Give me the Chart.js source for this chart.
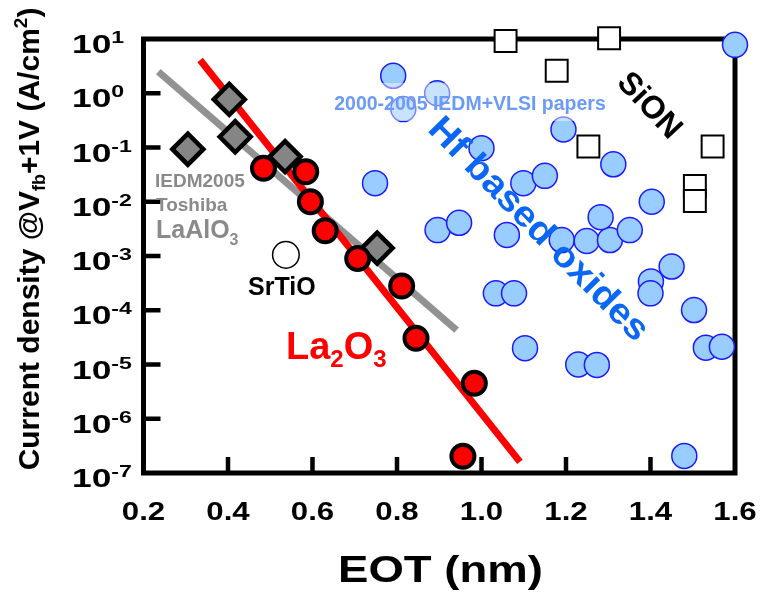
<!DOCTYPE html>
<html>
<head>
<meta charset="utf-8">
<script src="https://cdn.jsdelivr.net/npm/chart.js@4.4.1/dist/chart.umd.min.js"></script>
<style>
  html, body { margin: 0; padding: 0; background: #fff; }
</style>
</head>
<body>
<canvas id="chart" width="762" height="603"></canvas>
<script>
// axis ticks
const eotTicks = [0.2, 0.4, 0.6, 0.8, 1.0, 1.2, 1.4, 1.6];
const eotLabels = ['0.2', '0.4', '0.6', '0.8', '1.0', '1.2', '1.4', '1.6'];
const jTicks = [1e1, 1e0, 1e-1, 1e-2, 1e-3, 1e-4, 1e-5, 1e-6, 1e-7];
const jExp = ['1', '0', '-1', '-2', '-3', '-4', '-5', '-6', '-7'];

// La2O3 (red circles)
const la2o3EOT = [0.484, 0.584, 0.595, 0.630, 0.707, 0.811, 0.845, 0.983, 0.956];
const la2o3J = [0.0414, 0.0358, 0.0100, 0.00292, 0.0009, 0.00028, 3.04e-5, 4.5e-6, 2.03e-7];
const la2o3FitEOT = [0.334, 1.091];
const la2o3FitJ = [4.1, 1.6e-7];

// LaAlO3, IEDM2005 Toshiba (grey diamonds)
const laalo3EOT = [0.403, 0.417, 0.305, 0.535, 0.753];
const laalo3J = [0.77, 0.158, 0.093, 0.068, 0.0014];
const laalo3FitEOT = [0.235, 0.941];
const laalo3FitJ = [2.5, 4.3e-5];

// SrTiO
const srtioEOT = [0.537];
const srtioJ = [0.00105];

// SiON (open squares)
const sionEOT = [1.057, 1.302, 1.178, 1.253, 1.547, 1.505, 1.505];
const sionJ = [9.2, 10.3, 2.6, 0.104, 0.104, 0.0195, 0.0103];

// Hf based oxides, 2000-2005 IEDM+VLSI papers (blue circles)
const hfEOT = [0.791, 0.895, 0.815, 1.000, 0.748, 1.099, 1.150, 1.194, 1.312, 1.403,
  0.896, 0.947, 1.060, 1.190, 1.249, 1.304, 1.282, 1.351, 1.450, 1.401,
  1.400, 1.034, 1.077, 1.503, 1.531, 1.569, 1.103, 1.229, 1.273, 1.480, 1.600];
const hfJ = [2.1, 1.0, 0.51, 0.097, 0.022, 0.022, 0.030, 0.215, 0.049, 0.010,
  0.0030, 0.0041, 0.00244, 0.00197, 0.00189, 0.00197, 0.0052, 0.0030, 0.00064, 0.00034,
  0.000205, 0.000205, 0.000205, 0.000101, 2.04e-5, 2.13e-5, 2.0e-5, 1.0e-5, 9.8e-6, 2.06e-7, 7.8];

const FONT = '"Liberation Sans", Arial, Helvetica, sans-serif';

function pts(xs, ys) {
  return xs.map((x, i) => ({ x: x, y: ys[i] }));
}

// draw a text, optionally stretched horizontally
function text(ctx, s, x, y, size, color, opts) {
  opts = opts || {};
  ctx.save();
  ctx.translate(x, y);
  if (opts.rot) ctx.rotate(opts.rot);
  ctx.scale(opts.sx || 1, 1);
  ctx.font = (opts.weight || 'bold') + ' ' + size + 'px ' + FONT;
  ctx.fillStyle = color;
  ctx.textAlign = opts.align || 'left';
  ctx.textBaseline = opts.base || 'alphabetic';
  ctx.fillText(s, 0, 0);
  ctx.restore();
}

// pieces: [string, size, dy]
function richWidth(ctx, pieces, weight) {
  let w = 0;
  pieces.forEach(p => {
    ctx.font = (weight || 'bold') + ' ' + p[1] + 'px ' + FONT;
    w += ctx.measureText(p[0]).width;
  });
  return w;
}
function rich(ctx, pieces, x, y, color, opts) {
  opts = opts || {};
  const sx = opts.sx || 1;
  const w = richWidth(ctx, pieces, opts.weight);
  ctx.save();
  ctx.translate(x, y);
  if (opts.rot) ctx.rotate(opts.rot);
  ctx.scale(sx, 1);
  let cx = opts.align === 'center' ? -w / 2 : 0;
  ctx.fillStyle = color;
  ctx.textAlign = 'left';
  ctx.textBaseline = opts.base || 'alphabetic';
  pieces.forEach(p => {
    ctx.font = (opts.weight || 'bold') + ' ' + p[1] + 'px ' + FONT;
    ctx.fillText(p[0], cx, p[2]);
    cx += ctx.measureText(p[0]).width;
  });
  ctx.restore();
}

const framePlugin = {
  id: 'frame',
  beforeDatasetsDraw(chart) {
    const ctx = chart.ctx;
    const a = chart.chartArea;
    const xs = chart.scales.x, ys = chart.scales.y;
    ctx.save();
    ctx.strokeStyle = '#000';
    ctx.lineWidth = 5;
    ctx.strokeRect(a.left, a.top, a.right - a.left, a.bottom - a.top);
    ctx.lineWidth = 4.5;
    ctx.beginPath();
    jTicks.slice(1, -1).forEach(v => {
      const py = ys.getPixelForValue(v);
      ctx.moveTo(a.left, py);
      ctx.lineTo(a.left + 17, py);
    });
    eotTicks.slice(1, -1).forEach(v => {
      const px = xs.getPixelForValue(v);
      ctx.moveTo(px, a.bottom);
      ctx.lineTo(px, a.bottom - 16);
    });
    ctx.stroke();
    ctx.restore();
  },
  afterDatasetsDraw(chart) {
    const ctx = chart.ctx;
    const xs = chart.scales.x, ys = chart.scales.y;

    // faint box behind the papers label
    ctx.save();
    ctx.fillStyle = 'rgba(255,255,255,0.45)';
    ctx.fillRect(330, 83, 280, 38);
    ctx.restore();

    // y tick labels 10^n
    jTicks.forEach((v, i) => {
      const py = ys.getPixelForValue(v);
      rich(ctx, [['10', 26, 0], [jExp[i], 17, -10]], 72, py + 14, '#000', { sx: 1.36 });
    });
    // x tick labels
    eotTicks.forEach((v, i) => {
      text(ctx, eotLabels[i], xs.getPixelForValue(v), 520, 26, '#000', { align: 'center', sx: 1.2 });
    });
    // axis titles
    text(ctx, 'EOT (nm)', 440.5, 582, 37, '#000', { align: 'center', sx: 1.23 });
    rich(ctx, [['Current density @V', 30, 0], ['fb', 18, 6], ['+1V (A/cm', 30, 0], ['2', 19, -12], [')', 30, 0]],
      39, 239, '#000', { rot: -Math.PI / 2, align: 'center' });

    // annotations
    text(ctx, 'IEDM2005', 155, 187, 19, '#8a8a8a');
    text(ctx, 'Toshiba', 156, 210.5, 19, '#8a8a8a');
    rich(ctx, [['LaAlO', 25, 0], ['3', 16, 7]], 156, 238, '#8a8a8a');
    text(ctx, 'SrTiO', 248, 295, 25, '#000');
    rich(ctx, [['La', 38, 0], ['2', 24, 8], ['O', 38, 0], ['3', 24, 8]], 286, 359, '#ff0000');
    text(ctx, '2000-2005 IEDM+VLSI papers', 470, 110, 19.5, '#6b9bf7', { align: 'center' });
    text(ctx, 'Hf based oxides', 538, 230, 36, '#0a66f5', { align: 'center', base: 'middle', rot: 45.5 * Math.PI / 180, sx: 1.08 });
    text(ctx, 'SiON', 649, 106, 32, '#000', { align: 'center', base: 'middle', rot: 47 * Math.PI / 180 });
  }
};

new Chart(document.getElementById('chart'), {
  type: 'scatter',
  data: {
    datasets: [
      {
        label: 'La2O3',
        data: pts(la2o3EOT, la2o3J),
        pointStyle: 'circle',
        pointRadius: 11.5,
        backgroundColor: '#ff0000',
        borderColor: '#000',
        borderWidth: 4,
        order: 0
      },
      {
        label: 'LaAlO3',
        data: pts(laalo3EOT, laalo3J),
        pointStyle: 'rectRot',
        pointRadius: 15.5,
        backgroundColor: '#858585',
        borderColor: '#000',
        borderWidth: 4.5,
        order: 1
      },
      {
        label: 'La2O3 fit',
        data: pts(la2o3FitEOT, la2o3FitJ),
        showLine: true,
        pointRadius: 0,
        borderColor: '#ff0000',
        borderWidth: 7,
        order: 2
      },
      {
        label: 'LaAlO3 fit',
        data: pts(laalo3FitEOT, laalo3FitJ),
        showLine: true,
        pointRadius: 0,
        borderColor: '#929292',
        borderWidth: 7,
        order: 3
      },
      {
        label: 'SrTiO',
        data: pts(srtioEOT, srtioJ),
        pointRadius: 13.3,
        backgroundColor: '#fff',
        borderColor: '#000',
        borderWidth: 1.5,
        order: 4
      },
      {
        label: 'SiON',
        data: pts(sionEOT, sionJ),
        pointStyle: 'rect',
        pointRadius: 15.5,
        backgroundColor: '#fff',
        borderColor: '#000',
        borderWidth: 2,
        order: 5
      },
      {
        label: 'Hf based oxides',
        data: pts(hfEOT, hfJ),
        pointRadius: 12.5,
        backgroundColor: '#99ccff',
        borderColor: '#1a1aff',
        borderWidth: 1.5,
        order: 6
      }
    ]
  },
  options: {
    responsive: false,
    animation: false,
    events: [],
    clip: false,
    layout: { padding: { left: 143.5, right: 27, top: 39, bottom: 130 } },
    datasets: { scatter: { clip: false } },
    plugins: { legend: { display: false }, tooltip: { enabled: false } },
    scales: {
      x: { type: 'linear', min: 0.2, max: 1.6, display: false },
      y: { type: 'logarithmic', min: 1e-7, max: 10, display: false }
    }
  },
  plugins: [framePlugin]
});
</script>
</body>
</html>
